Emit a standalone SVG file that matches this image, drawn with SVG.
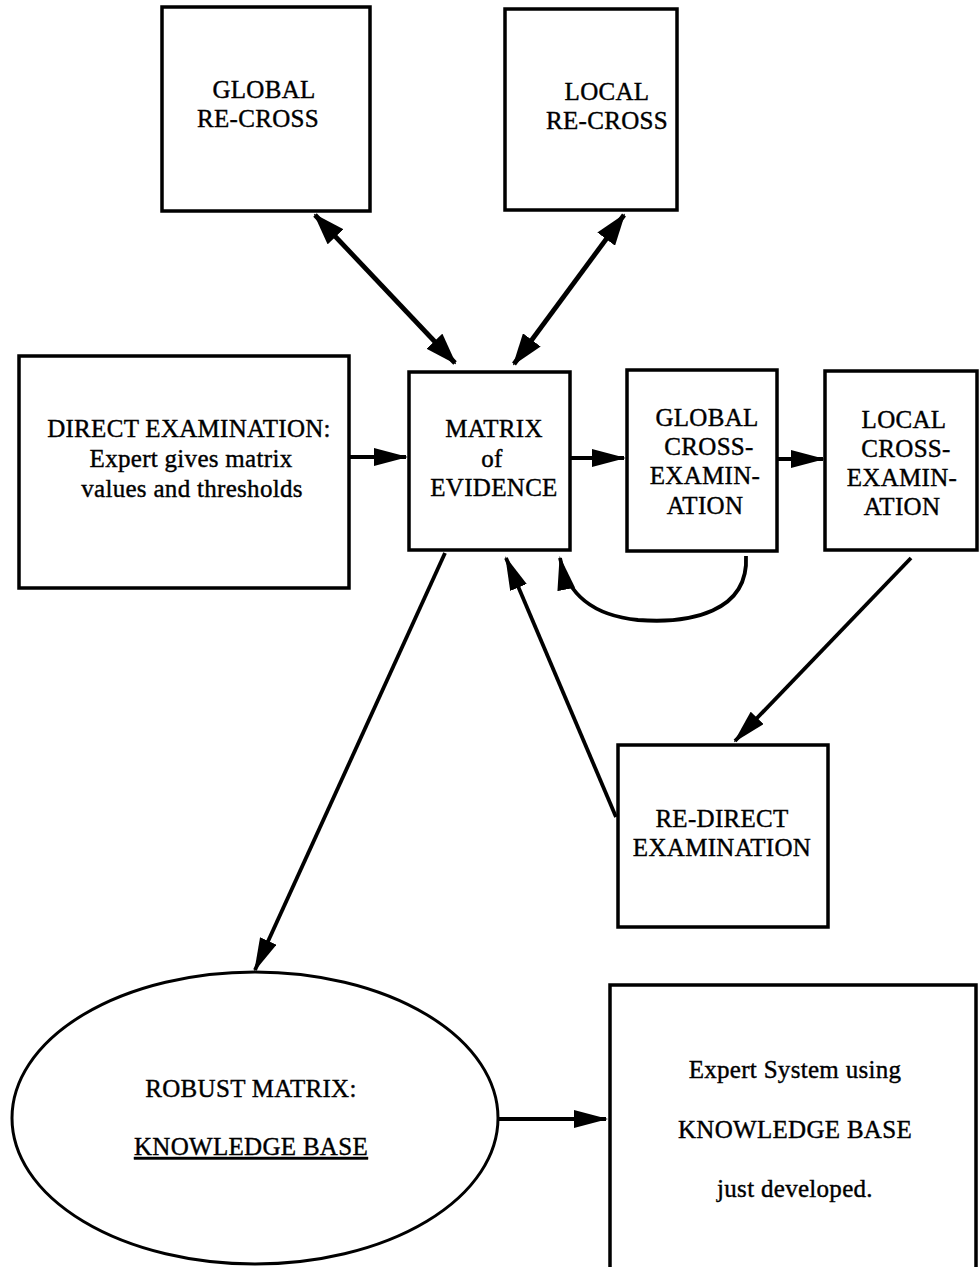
<svg xmlns="http://www.w3.org/2000/svg" width="979" height="1267" viewBox="0 0 979 1267">
<style>
.box{fill:#fff;stroke:#000;stroke-width:3.5}
.t{font-family:"Liberation Serif","Times New Roman",serif;font-size:25px;fill:#000;stroke:#000;stroke-width:0.4;text-anchor:middle;letter-spacing:0.3px}
.c{fill:none;stroke:#000;stroke-width:3.8}
.cb{fill:none;stroke:#000;stroke-width:4.8}
</style>
<defs>
<marker id="ah" viewBox="0 0 34 18" refX="32" refY="9" markerWidth="34" markerHeight="18" markerUnits="userSpaceOnUse" orient="auto-start-reverse">
<path d="M0,0 L34,9 L0,18 z" fill="#000"/>
</marker>
<marker id="ahb" viewBox="0 0 32 22" refX="30" refY="11" markerWidth="32" markerHeight="22" markerUnits="userSpaceOnUse" orient="auto-start-reverse">
<path d="M0,0 L32,11 L0,22 z" fill="#000"/>
</marker>
</defs>
<rect width="979" height="1267" fill="#fff"/>
<g id="global-recross">
<rect class="box" x="162" y="7" width="208" height="204"/>
<text class="t" x="264" y="98">GLOBAL</text>
<text class="t" x="258" y="127">RE-CROSS</text>
</g>
<g id="local-recross">
<rect class="box" x="505" y="9" width="172" height="201"/>
<text class="t" x="607" y="100">LOCAL</text>
<text class="t" x="607" y="129">RE-CROSS</text>
</g>
<g id="direct-examination">
<rect class="box" x="19" y="356" width="330" height="232"/>
<text class="t" x="189" y="437">DIRECT EXAMINATION:</text>
<text class="t" x="191" y="467">Expert gives matrix</text>
<text class="t" x="192" y="497">values and thresholds</text>
</g>
<g id="matrix-of-evidence">
<rect class="box" x="409" y="372" width="161" height="178"/>
<text class="t" x="494" y="437">MATRIX</text>
<text class="t" x="492" y="467">of</text>
<text class="t" x="494" y="496">EVIDENCE</text>
</g>
<g id="global-cross-examination">
<rect class="box" x="627" y="370" width="150" height="181"/>
<text class="t" x="707" y="426">GLOBAL</text>
<text class="t" x="709" y="455">CROSS-</text>
<text class="t" x="705" y="484">EXAMIN-</text>
<text class="t" x="705" y="514">ATION</text>
</g>
<g id="local-cross-examination">
<rect class="box" x="825" y="371" width="152" height="179"/>
<text class="t" x="904" y="428">LOCAL</text>
<text class="t" x="906" y="457">CROSS-</text>
<text class="t" x="902" y="486">EXAMIN-</text>
<text class="t" x="902" y="515">ATION</text>
</g>
<g id="re-direct-examination">
<rect class="box" x="618" y="745" width="210" height="182"/>
<text class="t" x="722" y="827">RE-DIRECT</text>
<text class="t" x="722" y="856">EXAMINATION</text>
</g>
<g id="robust-matrix">
<ellipse class="box" cx="255" cy="1118" rx="243" ry="146" style="stroke-width:3"/>
<text class="t" x="251" y="1097">ROBUST MATRIX:</text>
<text class="t" x="251" y="1155" text-decoration="underline">KNOWLEDGE BASE</text>
</g>
<g id="expert-system">
<rect class="box" x="610" y="985" width="366" height="300"/>
<text class="t" x="795" y="1078">Expert System using</text>
<text class="t" x="795" y="1138">KNOWLEDGE BASE</text>
<text class="t" x="795" y="1197">just developed.</text>
</g>
<g id="connectors">
<path class="cb" d="M315,215 L455,363" marker-start="url(#ahb)" marker-end="url(#ahb)"/>
<path class="cb" d="M624,215 L514,364" marker-start="url(#ahb)" marker-end="url(#ahb)"/>
<path class="c" d="M349,457 L406,457" marker-end="url(#ah)"/>
<path class="c" d="M570,458 L624,458" marker-end="url(#ah)"/>
<path class="c" d="M777,459 L823,459" marker-end="url(#ah)"/>
<path class="c" d="M746,556 C749,612 690,624 638,620 C598,616 568,598 560,558" marker-end="url(#ah)"/>
<path class="c" d="M911,558 L735,741" marker-end="url(#ah)"/>
<path class="c" d="M616,817 L506,558" marker-end="url(#ah)"/>
<path class="c" d="M445,553 L255,970" marker-end="url(#ah)"/>
<path class="c" d="M498,1119 L606,1119" marker-end="url(#ah)"/>
</g>
</svg>
